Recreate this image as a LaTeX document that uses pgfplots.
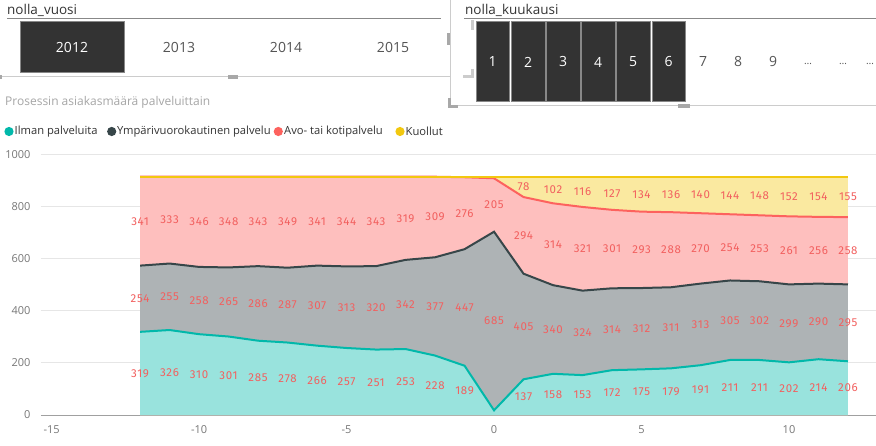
\documentclass[border=0pt]{standalone}
\usepackage{fontspec}
\setmainfont{Open Sans}
\newfontfamily\lblfont[LetterSpace=6]{Fira Sans}
\usepackage{pgfplots}
\usepackage{pgfplotstable}
\pgfplotsset{compat=1.18}

\definecolor{cteal}{HTML}{01B8AA}
\definecolor{cgrey}{HTML}{374649}
\definecolor{cred}{HTML}{FD625E}
\definecolor{cyel}{HTML}{F2C80F}
\definecolor{fteal}{HTML}{99E3DD}
\definecolor{fgrey}{HTML}{AEB3B5}
\definecolor{fred}{HTML}{FEBFBE}
\definecolor{fyel}{HTML}{FAE9A0}
\definecolor{clab}{HTML}{F2605F}
\definecolor{cdark}{HTML}{333333}
\definecolor{cmid}{HTML}{555555}
\definecolor{cline}{HTML}{888888}
\definecolor{clight}{HTML}{CCCCCC}
\definecolor{chandle}{HTML}{A8A8A8}
\definecolor{ctitle}{HTML}{A6A6A6}
\definecolor{cgrid}{HTML}{E6E6E6}
\definecolor{cbase}{HTML}{A0A0A0}
\definecolor{ctick}{HTML}{777777}

\pgfplotstableread{
x a b c d
-12 319 254 341 0
-11 326 255 333 0
-10 310 258 346 0
-9 301 265 348 0
-8 285 286 343 0
-7 278 287 349 0
-6 266 307 341 0
-5 257 313 344 0
-4 251 320 343 0
-3 253 342 319 0
-2 228 377 309 0
-1 189 447 276 2
0 18 685 205 6
1 137 405 294 78
2 158 340 314 102
3 153 324 321 116
4 172 314 301 127
5 175 312 293 134
6 179 311 288 136
7 191 313 270 140
8 211 305 254 144
9 211 302 253 148
10 202 299 261 152
11 214 290 256 154
12 206 295 258 155
}\data

\begin{document}
\begin{tikzpicture}[x=1pt,y=1pt]
\fill[white] (0,0) rectangle (876,445);
% ---- left slicer
\node[anchor=base west, inner sep=0, font=\fontsize{13.5}{16}\selectfont, text=cdark] at (7,430) {nolla\_vuosi};
\draw[cline, line width=1pt] (7,426) -- (441,426);
\fill[cdark] (20,373) rectangle (124,424);
\draw[cline, line width=0.6pt] (20,373) rectangle (124,424);
\node[font=\fontsize{14}{16}\selectfont, text=white] at (72,398) {2012};
\node[font=\fontsize{14}{16}\selectfont, text=cmid] at (179,398) {2013};
\node[font=\fontsize{14}{16}\selectfont, text=cmid] at (286,398) {2014};
\node[font=\fontsize{14}{16}\selectfont, text=cmid] at (393,398) {2015};
\draw[clight, line width=1pt] (0,368) -- (450,368);
\fill[chandle] (228,366) rectangle (238,370);
\fill[chandle] (0,366) rectangle (2,370);
\fill[chandle] (447,400) rectangle (451,412);
% ---- right slicer
\node[anchor=base west, inner sep=0, font=\fontsize{13.5}{16}\selectfont, text=cdark] at (465,430) {nolla\_kuukausi};
\draw[cline, line width=1pt] (464,426) -- (876,426);
\draw[clight, line width=1pt] (450,445) -- (450,339) -- (876,339);
\fill[chandle] (448,337) rectangle (451,347);
\fill[chandle] (448,337) rectangle (458,340);
\fill[chandle] (678,337) rectangle (690,341);
\fill[clight] (471,367) rectangle (474,376);
\fill[clight] (463,367) rectangle (474,370);
\fill[clight] (471,415) rectangle (474,425);
\foreach \xa/\xb/\n in {476/509/1,511/545/2,546/580/3,581/615/4,616/650/5,652/685/6}{
  \fill[cdark] (\xa,344) rectangle (\xb,424);
  \draw[cline, line width=0.6pt] (\xa,344) rectangle (\xb,424);
  \node[font=\fontsize{14}{16}\selectfont, text=white] at ({(\xa+\xb)/2},383) {\n};
}
\foreach \xc/\n in {703/7,738/8,773/9}{
  \node[font=\fontsize{14}{16}\selectfont, text=cmid] at (\xc,383) {\n};
}
\foreach \xc in {808,843,870}{
  \node[font=\fontsize{10}{12}\selectfont, text=cmid] at (\xc,381) {…};
}
% ---- title and legend
\node[anchor=west, inner sep=0, font=\fontsize{12}{14}\selectfont, text=ctitle] at (5,342.5) {Prosessin asiakasmäärä palveluittain};
\fill[cteal] (9,313.5) circle (4.6);
\node[anchor=west, inner sep=0, font=\fontsize{11.2}{13}\selectfont, text=cdark] at (14.5,313.5) {Ilman palveluita};
\fill[cgrey] (111.7,313.5) circle (4.6);
\node[anchor=west, inner sep=0, font=\fontsize{11.2}{13}\selectfont, text=cdark] at (117,313.5) {Ympärivuorokautinen palvelu};
\fill[cred] (278.3,313.5) circle (4.6);
\node[anchor=west, inner sep=0, font=\fontsize{11.2}{13}\selectfont, text=cdark] at (284,313.5) {Avo- tai kotipalvelu};
\fill[cyel] (400,313.5) circle (4.6);
\node[anchor=west, inner sep=0, font=\fontsize{11.2}{13}\selectfont, text=cdark] at (405.5,313.5) {Kuollut};
% ---- chart
\begin{axis}[
  at={(41pt,30pt)}, anchor=south west,
  scale only axis, width=835pt, height=260.7pt,
  xmin=-15.36, xmax=12.95, ymin=0, ymax=1000,
  axis line style={draw=none}, tick style={draw=none},
  xtick={-15,-10,-5,0,5,10},
  ytick={200,400,600,800,1000},
  extra y ticks={0},
  extra y tick style={grid=major, major grid style={color=cbase, line width=1pt}},
  ymajorgrids, major grid style={color=cgrid, line width=0.8pt},
  ticklabel style={font=\fontsize{11}{13}\selectfont, text=ctick},
  yticklabel style={anchor=east, xshift=-7pt},
  xticklabel style={anchor=north, yshift=-7pt},
  /pgf/number format/assume math mode=true,
  /pgf/number format/1000 sep={},
  clip=false,
  nodes near coords style={font=\lblfont\fontsize{11.5}{13}\selectfont, text=clab, anchor=center, inner sep=0pt},
]
\addplot[fill=fyel, draw=none] table[x=x, y expr=\thisrow{a}+\thisrow{b}+\thisrow{c}+\thisrow{d}] {\data} \closedcycle;
\addplot[fill=fred, draw=none] table[x=x, y expr=\thisrow{a}+\thisrow{b}+\thisrow{c}] {\data} \closedcycle;
\addplot[fill=fgrey, draw=none] table[x=x, y expr=\thisrow{a}+\thisrow{b}] {\data} \closedcycle;
\addplot[fill=fteal, draw=none] table[x=x, y=a] {\data} \closedcycle;
\addplot[cteal, line width=2pt] table[x=x, y=a] {\data};
\addplot[cgrey, line width=2pt] table[x=x, y expr=\thisrow{a}+\thisrow{b}] {\data};
\addplot[cred, line width=2pt] table[x=x, y expr=\thisrow{a}+\thisrow{b}+\thisrow{c}] {\data};
\addplot[cyel, line width=2pt] table[x=x, y expr=\thisrow{a}+\thisrow{b}+\thisrow{c}+\thisrow{d}] {\data};
% labels
\addplot[draw=none, nodes near coords, point meta=explicit, skip coords between index={12}{13}] table[x=x, y expr=\thisrow{a}/2, meta=a] {\data};
\addplot[draw=none, nodes near coords, point meta=explicit] table[x=x, y expr=\thisrow{a}+\thisrow{b}/2, meta=b] {\data};
\addplot[draw=none, nodes near coords, point meta=explicit] table[x=x, y expr=\thisrow{a}+\thisrow{b}+\thisrow{c}/2, meta=c] {\data};
\addplot[draw=none, nodes near coords, point meta=explicit, skip coords between index={0}{13}] table[x=x, y expr=\thisrow{a}+\thisrow{b}+\thisrow{c}+\thisrow{d}/2, meta=d] {\data};
\end{axis}
\pgfresetboundingbox
\path[use as bounding box] (0,0) rectangle (876,445);
\end{tikzpicture}
\end{document}
